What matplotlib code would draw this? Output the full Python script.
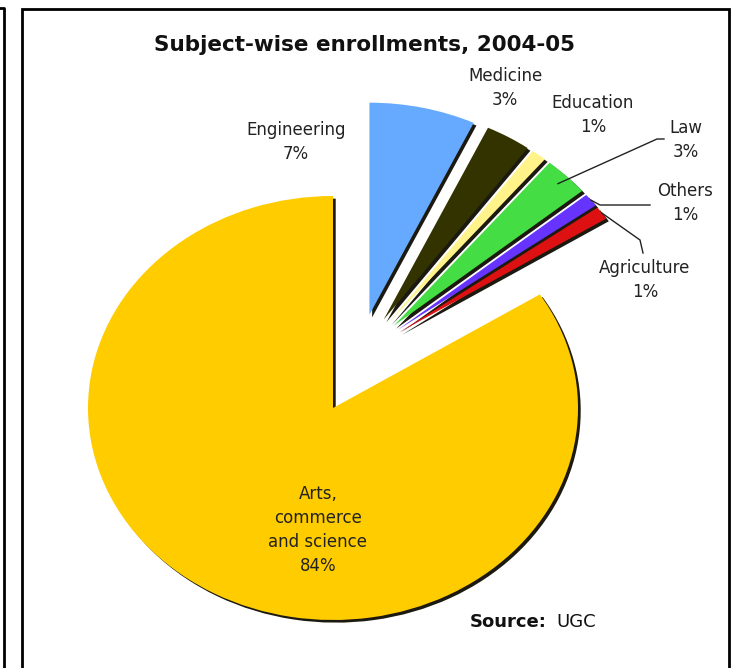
import matplotlib.pyplot as plt
from matplotlib.lines import Line2D
from matplotlib.patches import Rectangle
import numpy as np

# Subject-wise enrollment shares (%), 2004-05
main_label = 'Arts,\ncommerce\nand science'
main_share = 84
subjects = ['Engineering', 'Medicine', 'Education', 'Law', 'Others', 'Agriculture']
shares = [7, 3, 1, 3, 1, 1]

main_color = '#FFCC00'
colors = ['#66AAFF', '#333300', '#FFF38A', '#44DD44', '#6633FF', '#DD1111']

W, H = 732, 668
fig = plt.figure(figsize=(W / 100, H / 100), dpi=100)
ax = fig.add_axes([0, 0, 1, 1])


def px(x, y):
    # pixel position (origin top-left) -> figure fraction
    return x / W, 1 - y / H


shadow = {'ox': 0.008, 'oy': -0.009, 'alpha': 1,
          'facecolor': '#1c1a10', 'edgecolor': '#1c1a10'}

# big slice, counter-clockwise from 12 o'clock
ax.pie([main_share / 100], normalize=False, startangle=90, counterclock=True,
       colors=[main_color], wedgeprops={'linewidth': 0}, shadow=shadow)

# the small subjects pulled out as a group, clockwise from 12 o'clock
wedges, _ = ax.pie(np.array(shares) / 100, normalize=False, startangle=90,
                   counterclock=False, center=(0.105, 0.245),
                   explode=[0.2] * len(shares), colors=colors,
                   wedgeprops={'linewidth': 0}, shadow=shadow)

# elliptical pie filling the frame
ax.set_aspect('auto')
ax.set_xlim(-333 / 245, (W - 333) / 245)
ax.set_ylim((408 - H) / 212, 408 / 212)
ax.axis('off')

txt = dict(fontsize=12, color='#222222', ha='center', va='center',
           linespacing=1.45, family='DejaVu Sans')

fig.text(*px(364, 45), 'Subject-wise enrollments, 2004-05', fontsize=15.5,
         fontweight='bold', ha='center', va='center', color='#111111')

label_pos = {
    'Engineering': (296, 142),
    'Medicine': (505, 88),
    'Education': (593, 115),
    'Law': (686, 140),
    'Others': (685, 203),
    'Agriculture': (645, 280),
}
for name, val in zip(subjects, shares):
    fig.text(*px(*label_pos[name]), f'{name}\n{val}%', **txt)

fig.text(*px(318, 530), f'{main_label}\n{main_share}%', **txt)

fig.text(*px(470, 622), 'Source:', fontsize=13, fontweight='bold',
         ha='left', va='center', color='#111111')
fig.text(*px(556, 622), 'UGC', fontsize=13, ha='left', va='center',
         color='#111111')


def wedge_point(w, frac=0.95):
    # point on the wedge bisector near its outer arc, in figure fraction
    ang = np.deg2rad((w.theta1 + w.theta2) / 2)
    cx, cy = w.center
    p = (cx + frac * w.r * np.cos(ang), cy + frac * w.r * np.sin(ang))
    return fig.transFigure.inverted().transform(ax.transData.transform(p))


leaders = {
    'Law': ([(657, 139), (664, 139)], 0.95),
    'Others': ([(600, 205), (650, 205)], 1.0),
    'Agriculture': ([(640, 240), (643, 253)], 1.0),
}
for name, (pts, frac) in leaders.items():
    w = wedges[subjects.index(name)]
    x0, y0 = wedge_point(w, frac)
    xs, ys = [x0], [y0]
    for (x, y) in pts:
        fx, fy = px(x, y)
        xs.append(fx)
        ys.append(fy)
    fig.add_artist(Line2D(xs, ys, color='#222222', linewidth=1))

# chart frame and the edge of the neighbouring panel
fig.add_artist(Rectangle(px(22, H + 5), (729 - 22) / W, (H - 9 + 5) / H,
                         fill=False, edgecolor='black', linewidth=2))
fig.add_artist(Line2D([px(0, 8)[0], px(4, 8)[0], px(4, H)[0]],
                      [px(0, 8)[1], px(4, 8)[1], px(4, H)[1]],
                      color='black', linewidth=2))

fig.savefig('out.png', dpi=100, facecolor='white')
